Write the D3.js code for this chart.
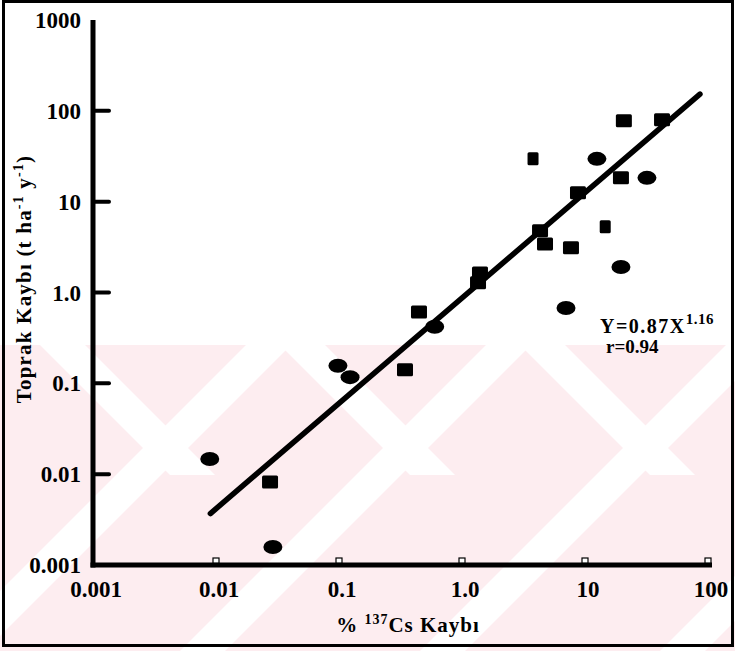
<!DOCTYPE html>
<html><head><meta charset="utf-8">
<script src="https://cdn.jsdelivr.net/npm/d3@7"></script>
<style>body{margin:0;background:#fff}svg{display:block}</style>
</head><body>
<svg id="c" width="735" height="651"></svg>
<script>
// ---- data ----
const xTicks = [0.001, 0.01, 0.1, 1, 10, 100];
const xTickLabels = ["0.001", "0.01", "0.1", "1.0", "10", "100"];
const yTicks = [0.001, 0.01, 0.1, 1, 10, 100, 1000];
const yTickLabels = ["0.001", "0.01", "0.1", "1.0", "10", "100", "1000"];
// square markers
const squaresX = [0.0275, 0.344, 0.447, 1.40, 1.35, 3.78, 4.31, 4.73, 7.69, 8.77, 14.6, 19.6, 20.7, 42.3];
const squaresY = [0.0082, 0.141, 0.61, 1.64, 1.28, 29.6, 4.77, 3.43, 3.10, 12.5, 5.28, 18.3, 77.6, 79.6];
const squaresSmall = [false, false, false, false, false, true, false, false, false, false, true, false, false, false];
// oval markers
const ovalsX = [0.0089, 0.029, 0.098, 0.123, 0.60, 7.01, 12.5, 19.6, 31.9];
const ovalsY = [0.0147, 0.00158, 0.156, 0.117, 0.42, 0.676, 29.6, 1.91, 18.3];
// regression Y = a X^b, drawn over x range
const fitA = 0.87, fitB = 1.16;
const fitRange = [0.009, 86];

// ---- layout ----
const svg = d3.select("#c");
const x = d3.scaleLog().domain([0.001, 100]).range([93, 708]);
const y = d3.scaleLog().domain([0.001, 1000]).range([565, 20]);
const serif = "'Liberation Serif', 'DejaVu Serif', serif";

// watermark-like pink background bands
const wm = svg.append("g");
wm.append("rect").attr("x",0).attr("y",345).attr("width",735).attr("height",306).attr("fill","#fdedf0");
const defs = svg.append("defs");
defs.append("clipPath").attr("id","wmclip").append("rect").attr("x",0).attr("y",345).attr("width",735).attr("height",306);
const stripes = wm.append("g").attr("clip-path","url(#wmclip)");
[-60, 180, 420, 660].forEach(sx=>{
  stripes.append("polygon").attr("points",`${sx},651 ${sx+45},651 ${sx+351},345 ${sx+306},345`).attr("fill","#fff");
});
[40, 280, 520].forEach(sx=>{
  stripes.append("polygon").attr("points",`${sx},345 ${sx+45},345 ${sx+175},475 ${sx+130},475`).attr("fill","#fff");
});

// border
svg.append("rect").attr("x",3.5).attr("y",1.5).attr("width",729).attr("height",644)
  .attr("fill","none").attr("stroke","#000").attr("stroke-width",3);

// axes lines
svg.append("line").attr("x1",x(0.001)).attr("x2",x(0.001)).attr("y1",y(1000)).attr("y2",y(0.001)+2.5)
  .attr("stroke","#000").attr("stroke-width",5);
svg.append("line").attr("x1",x(0.001)-2.5).attr("x2",712).attr("y1",y(0.001)).attr("y2",y(0.001))
  .attr("stroke","#000").attr("stroke-width",5);

// y ticks
svg.selectAll(".yt").data(yTicks.filter(d=>d>0.001 && d<1000)).enter().append("line")
  .attr("x1",x(0.001)).attr("x2",x(0.001)+16).attr("y1",d=>y(d)).attr("y2",d=>y(d))
  .attr("stroke","#000").attr("stroke-width",4).attr("stroke-linecap","round");
// x ticks (small)
svg.selectAll(".xt").data(xTicks.filter(d=>d>0.001)).enter().append("rect")
  .attr("x",d=>x(d)-3).attr("y",y(0.001)-7).attr("width",6).attr("height",5)
  .attr("fill","#fff").attr("stroke","#000").attr("stroke-width",1.2);

// tick labels
svg.selectAll(".yl").data(yTicks).enter().append("text")
  .attr("x",81).attr("y",d=>y(d)+8).attr("text-anchor","end")
  .attr("font-family",serif).attr("font-weight","bold").attr("font-size",23)
  .text((d,i)=>yTickLabels[i]);
svg.selectAll(".xl").data(xTicks).enter().append("text")
  .attr("x",d=>x(d)+3).attr("y",597).attr("text-anchor","middle")
  .attr("font-family",serif).attr("font-weight","bold").attr("font-size",23)
  .text((d,i)=>xTickLabels[i]);

// regression line
const fitPts = fitRange.map(v=>[v, fitA*Math.pow(v, fitB)]);
svg.append("path").attr("d", d3.line().x(d=>x(d[0])).y(d=>y(d[1]))(fitPts))
  .attr("stroke","#000").attr("stroke-width",5.5).attr("fill","none").attr("stroke-linecap","round");

// markers
svg.selectAll(".sq").data(squaresX).enter().append("rect")
  .attr("x",(d,i)=>x(d)-(squaresSmall[i]?5.5:8)).attr("y",(d,i)=>y(squaresY[i])-6.5)
  .attr("width",(d,i)=>squaresSmall[i]?11:16).attr("height",13).attr("rx",1.5)
  .attr("fill","#000");
svg.selectAll(".ov").data(ovalsX).enter().append("ellipse")
  .attr("cx",d=>x(d)).attr("cy",(d,i)=>y(ovalsY[i])).attr("rx",9.5).attr("ry",7)
  .attr("fill","#000");

// axis titles
const xt = svg.append("text").attr("x",408).attr("y",632).attr("text-anchor","middle")
  .attr("font-family",serif).attr("font-weight","bold").attr("font-size",21).attr("letter-spacing",1);
xt.append("tspan").text("% ");
xt.append("tspan").attr("font-size",14).attr("dy",-8).text("137");
xt.append("tspan").attr("dy",8).text("Cs Kaybı");

const yt = svg.append("text").attr("transform","translate(31,279) rotate(-90)").attr("text-anchor","middle")
  .attr("font-family",serif).attr("font-weight","bold").attr("font-size",21).attr("letter-spacing",1.2);
yt.append("tspan").text("Toprak Kaybı (t ha");
yt.append("tspan").attr("font-size",14).attr("dy",-8).text("-1");
yt.append("tspan").attr("dy",8).text(" y");
yt.append("tspan").attr("font-size",14).attr("dy",-8).text("-1");
yt.append("tspan").attr("dy",8).text(")");

// equation
const eq = svg.append("text").attr("x",600).attr("y",333)
  .attr("font-family",serif).attr("font-weight","bold").attr("font-size",20).attr("letter-spacing",1.5);
eq.append("tspan").text("Y=0.87X");
eq.append("tspan").attr("font-size",15).attr("dy",-9).attr("letter-spacing",0.5).text("1.16");
svg.append("text").attr("x",606).attr("y",353)
  .attr("font-family",serif).attr("font-weight","bold").attr("font-size",19).text("r=0.94");
</script>
</body></html>
